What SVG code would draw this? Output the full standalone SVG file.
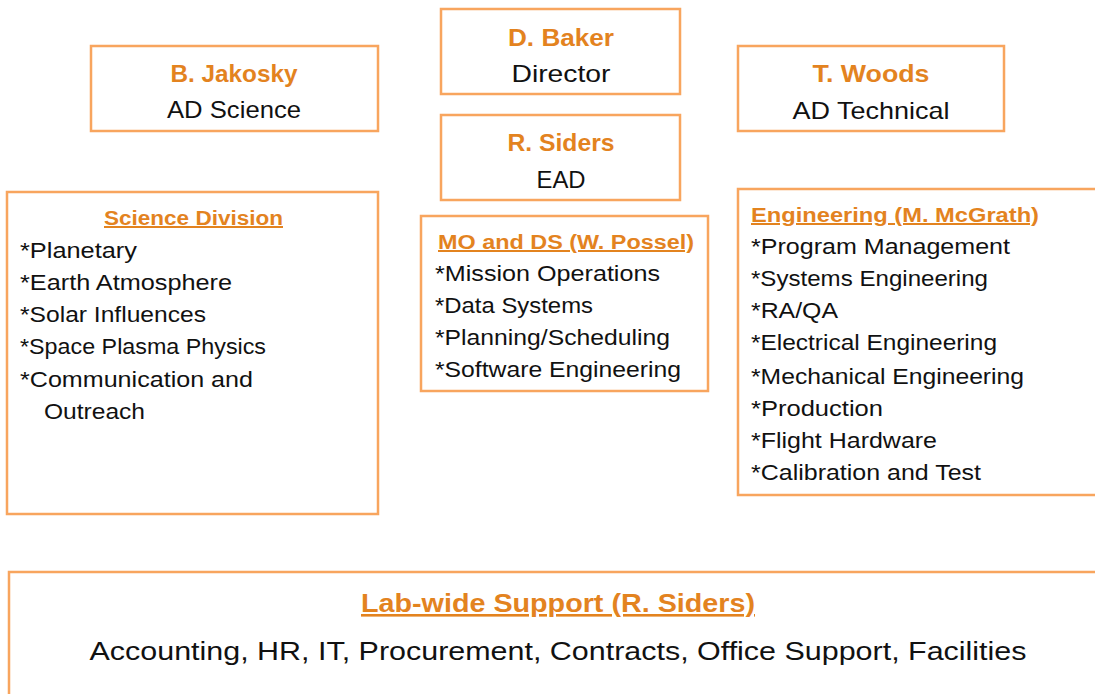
<svg xmlns="http://www.w3.org/2000/svg" width="1095" height="694" viewBox="0 0 1095 694">
  <style>
    .box { fill: #ffffff; stroke: #F8A55E; stroke-width: 2.5; }
    text { font-family: "Liberation Sans", Arial, sans-serif; }
    .name { font-size: 24px; font-weight: bold; fill: #E3831F; text-anchor: middle; }
    .role { font-size: 24px; fill: #111111; text-anchor: middle; }
    .head { font-size: 20px; font-weight: bold; fill: #E3831F; text-decoration: underline; }
    .item { font-size: 22px; fill: #111111; }
    .big-head { font-size: 26px; font-weight: bold; fill: #E3831F; text-decoration: underline; text-anchor: middle; }
    .big-body { font-size: 26px; fill: #111111; text-anchor: middle; }
  </style>
  <rect width="1095" height="694" fill="#ffffff"/>

  <g id="connectors"/>

  <!-- Director -->
  <g id="baker">
    <rect class="box" x="441" y="9" width="239" height="85"/>
    <text class="name" x="561" y="46" textLength="106" lengthAdjust="spacingAndGlyphs">D. Baker</text>
    <text class="role" x="561" y="82" textLength="99" lengthAdjust="spacingAndGlyphs">Director</text>
  </g>

  <!-- Associate Directors -->
  <g id="jakosky">
    <rect class="box" x="91" y="46" width="287" height="85"/>
    <text class="name" x="234" y="82" textLength="127" lengthAdjust="spacingAndGlyphs">B. Jakosky</text>
    <text class="role" x="234" y="118" textLength="134" lengthAdjust="spacingAndGlyphs">AD Science</text>
  </g>

  <g id="woods">
    <rect class="box" x="738" y="46" width="266" height="85"/>
    <text class="name" x="871" y="82" textLength="117" lengthAdjust="spacingAndGlyphs">T. Woods</text>
    <text class="role" x="871" y="119" textLength="157" lengthAdjust="spacingAndGlyphs">AD Technical</text>
  </g>

  <g id="siders">
    <rect class="box" x="441" y="115" width="239" height="85"/>
    <text class="name" x="561" y="151" textLength="107" lengthAdjust="spacingAndGlyphs">R. Siders</text>
    <text class="role" x="561" y="188" textLength="49" lengthAdjust="spacingAndGlyphs">EAD</text>
  </g>

  <!-- Divisions -->
  <g id="science-division">
    <rect class="box" x="7" y="192" width="371" height="322"/>
    <text class="head" x="104" y="225" textLength="179" lengthAdjust="spacingAndGlyphs">Science Division</text>
    <text class="item" x="20" y="258" textLength="117" lengthAdjust="spacingAndGlyphs">*Planetary</text>
    <text class="item" x="20" y="290" textLength="212" lengthAdjust="spacingAndGlyphs">*Earth Atmosphere</text>
    <text class="item" x="20" y="322" textLength="186" lengthAdjust="spacingAndGlyphs">*Solar Influences</text>
    <text class="item" x="20" y="354" textLength="246" lengthAdjust="spacingAndGlyphs">*Space Plasma Physics</text>
    <text class="item" x="20" y="387" textLength="233" lengthAdjust="spacingAndGlyphs">*Communication and</text>
    <text class="item" x="44" y="419" textLength="101" lengthAdjust="spacingAndGlyphs">Outreach</text>
  </g>

  <g id="mo-ds">
    <rect class="box" x="421" y="216" width="287" height="175"/>
    <text class="head" x="438" y="249" textLength="256" lengthAdjust="spacingAndGlyphs">MO and DS (W. Possel)</text>
    <text class="item" x="435" y="281" textLength="225" lengthAdjust="spacingAndGlyphs">*Mission Operations</text>
    <text class="item" x="435" y="313" textLength="158" lengthAdjust="spacingAndGlyphs">*Data Systems</text>
    <text class="item" x="435" y="345" textLength="235" lengthAdjust="spacingAndGlyphs">*Planning/Scheduling</text>
    <text class="item" x="435" y="377" textLength="246" lengthAdjust="spacingAndGlyphs">*Software Engineering</text>
  </g>

  <g id="engineering">
    <rect class="box" x="738" y="189" width="370" height="306"/>
    <text class="head" x="751" y="222" textLength="288" lengthAdjust="spacingAndGlyphs">Engineering (M. McGrath)</text>
    <text class="item" x="751" y="254" textLength="259" lengthAdjust="spacingAndGlyphs">*Program Management</text>
    <text class="item" x="751" y="286" textLength="237" lengthAdjust="spacingAndGlyphs">*Systems Engineering</text>
    <text class="item" x="751" y="318" textLength="87" lengthAdjust="spacingAndGlyphs">*RA/QA</text>
    <text class="item" x="751" y="350" textLength="246" lengthAdjust="spacingAndGlyphs">*Electrical Engineering</text>
    <text class="item" x="751" y="384" textLength="273" lengthAdjust="spacingAndGlyphs">*Mechanical Engineering</text>
    <text class="item" x="751" y="416" textLength="132" lengthAdjust="spacingAndGlyphs">*Production</text>
    <text class="item" x="751" y="448" textLength="186" lengthAdjust="spacingAndGlyphs">*Flight Hardware</text>
    <text class="item" x="751" y="480" textLength="230" lengthAdjust="spacingAndGlyphs">*Calibration and Test</text>
  </g>

  <!-- Shared services -->
  <g id="lab-wide-support">
    <rect class="box" x="9" y="572" width="1100" height="140"/>
    <text class="big-head" x="558" y="612" textLength="394" lengthAdjust="spacingAndGlyphs">Lab-wide Support (R. Siders)</text>
    <text class="big-body" x="558" y="660" textLength="937" lengthAdjust="spacingAndGlyphs">Accounting, HR, IT, Procurement, Contracts, Office Support, Facilities</text>
  </g>
</svg>
